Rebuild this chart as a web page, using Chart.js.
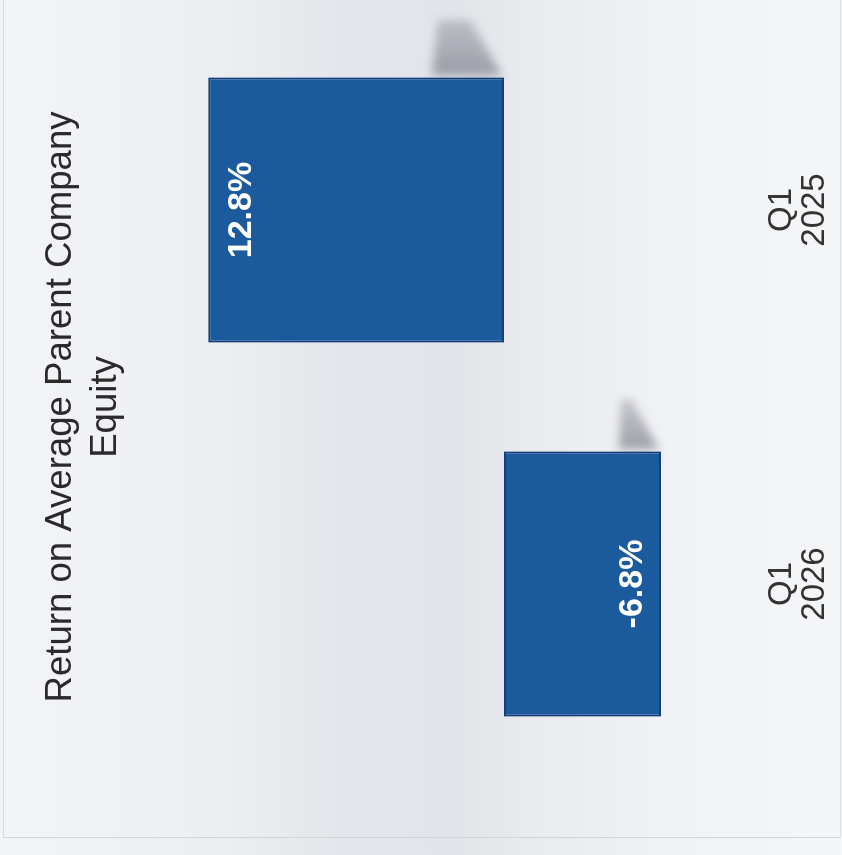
<!DOCTYPE html>
<html><head><meta charset="utf-8">
<script src="https://cdn.jsdelivr.net/npm/chart.js@4.4.1/dist/chart.umd.min.js"></script>
<style>
html,body{margin:0;padding:0;width:842px;height:855px;overflow:hidden;}
body{position:relative;background:linear-gradient(to right,#f3f4f7 0%,#eceef2 26%,#e4e6eb 40%,#e2e4e9 54%,#e9ebef 64%,#f1f2f5 80%,#f5f6f8 100%);}
#frame{position:absolute;left:3px;top:0;width:836px;height:837px;border-left:1px solid #d9dade;border-bottom:1px solid #d3d4d8;border-right:1px solid #e0e1e5;}
#wrap{position:absolute;left:0;top:0;width:855px;height:842px;transform-origin:0 0;transform:translate(0,855px) rotate(-90deg);}
canvas{display:block;}
</style></head>
<body><div id="frame"></div><div id="wrap"><canvas id="c" width="855" height="842"></canvas></div>
<script>
const categories = [['Q1', '2026'], ['Q1', '2025']];
const values = [-6.8, 12.8];
const valueLabels = ['-6.8%', '12.8%'];
const titleLines = ['Return on Average Parent Company', 'Equity'];
const yMin = -10;
const yMax = 16;

const FONT = '"Liberation Sans", Arial, Helvetica, sans-serif';

// faint scan shadows beside the bars
const barShadows = {
  id: 'barShadows',
  beforeDatasetsDraw(chart) {
    const ctx = chart.ctx;
    const meta = chart.getDatasetMeta(0);
    ctx.save();
    ctx.filter = 'blur(5px)';
    meta.data.forEach((bar, i) => {
      const edge = bar.x + bar.width / 2 + 2;
      const len = values[i] >= 0 ? 55 : 50;
      const g = ctx.createLinearGradient(edge, 0, edge + len, 0);
      g.addColorStop(0, 'rgba(105,105,118,0.6)');
      g.addColorStop(1, 'rgba(130,130,142,0.4)');
      ctx.fillStyle = g;
      ctx.beginPath();
      if (values[i] >= 0) {
        const b = bar.base;
        ctx.moveTo(edge, b - 72);
        ctx.lineTo(edge, b - 2);
        ctx.lineTo(edge + len, b - 34);
        ctx.lineTo(edge + len, b - 66);
      } else {
        const e = bar.y;
        ctx.moveTo(edge, e - 42);
        ctx.lineTo(edge, e - 2);
        ctx.lineTo(edge + len, e - 30);
        ctx.lineTo(edge + len, e - 40);
      }
      ctx.closePath();
      ctx.fill();
    });
    ctx.restore();
  }
};

const barLabels = {
  id: 'barLabels',
  afterDatasetsDraw(chart) {
    const ctx = chart.ctx;
    const meta = chart.getDatasetMeta(0);
    ctx.save();
    ctx.font = 'bold 34px ' + FONT;
    ctx.fillStyle = '#ffffff';
    ctx.textAlign = 'center';
    ctx.textBaseline = 'middle';
    meta.data.forEach((bar, i) => {
      const dir = values[i] >= 0 ? 1 : -1;
      ctx.fillText(valueLabels[i], bar.x, bar.y + dir * 30.5 + 2.5);
    });
    ctx.restore();
  }
};

new Chart(document.getElementById('c'), {
  type: 'bar',
  data: {
    labels: categories,
    datasets: [{
      data: values,
      backgroundColor: '#1c5a9e',
      borderColor: '#123f7a',
      borderWidth: 2,
      borderSkipped: false,
      categoryPercentage: 1.0,
      barPercentage: 0.709
    }]
  },
  options: {
    responsive: false,
    animation: false,
    devicePixelRatio: 1,
    layout: { padding: { left: 64, right: 23, top: 0, bottom: 10 } },
    plugins: {
      legend: { display: false },
      tooltip: { enabled: false },
      title: {
        display: true,
        text: titleLines,
        color: '#2a2a2a',
        font: { family: FONT, size: 36.6, weight: 'normal', lineHeight: 1.23 },
        padding: { top: 38, bottom: 6.4 }
      }
    },
    scales: {
      x: {
        grid: { display: false, drawTicks: false },
        border: { display: false },
        ticks: {
          color: '#333333',
          font: { family: FONT, size: 33, lineHeight: 1.0 },
          padding: 30,
          maxRotation: 0,
          autoSkip: false
        },
        afterFit(axis) { axis.height = 97; }
      },
      y: {
        min: yMin,
        max: yMax,
        grid: { display: false, drawTicks: false },
        border: { display: false },
        ticks: { display: false },
        afterFit(axis) { axis.width = 20; }
      }
    }
  },
  plugins: [barShadows, barLabels]
});
</script>
</body></html>
